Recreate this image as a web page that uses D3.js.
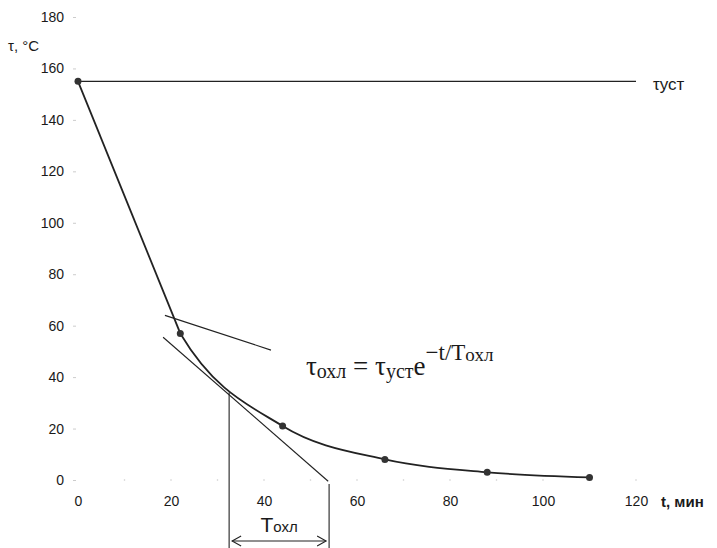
<!DOCTYPE html>
<html>
<head>
<meta charset="utf-8">
<script src="https://cdn.jsdelivr.net/npm/d3@7"></script>
<style>
  body { margin: 0; background: #fff; }
  svg { display: block; }
  text, tspan { font-family: "Liberation Sans", Arial, sans-serif; fill: #1a1a1a; }
  text.serif, text.serif tspan { font-family: "Liberation Serif", "Times New Roman", serif; }
</style>
</head>
<body>
<div id="chart"></div>
<script>
// measured cooling curve, t in minutes, tau in °C
const times = [0, 22, 44, 66, 88, 110];
const temps = [155, 57, 21, 8, 3, 1];
const tauSteady = 155;

const xTicks = [0, 20, 40, 60, 80, 100, 120];
const yTicks = [0, 20, 40, 60, 80, 100, 120, 140, 160, 180];

// tangent construction
const tangentA = [[18.7, 64], [41.5, 50.5]];
const tangentB = [[18.3, 55.5], [53.8, -0.5]];
const tangentPoint = [32.5, 34];
const tCool = 54;

const W = 717, H = 548;
const svg = d3.select('#chart').append('svg')
  .attr('width', W).attr('height', H);

const x = d3.scaleLinear().domain([0, 120]).range([78, 636]);
const y = d3.scaleLinear().domain([0, 180]).range([480, 17]);

// y tick labels
const yAxis = d3.axisLeft(y).tickValues(yTicks).tickSize(3).tickPadding(9);
const gy = svg.append('g').attr('transform', 'translate(76,0)').call(yAxis);
gy.select('.domain').remove();
gy.selectAll('.tick line').attr('stroke', '#ccc');
gy.selectAll('.tick text').attr('font-size', 14).attr('font-family', null).attr('fill', null);

// x tick labels
const xAxis = d3.axisBottom(x).tickValues(xTicks).tickSize(0).tickPadding(16);
const gx = svg.append('g').attr('transform', 'translate(0,480)').call(xAxis);
gx.select('.domain').remove();
gx.selectAll('.tick text').attr('font-size', 14).attr('font-family', null).attr('fill', null);

// faint dots along zero line
svg.append('g').selectAll('circle')
  .data(d3.range(10, 130, 10))
  .enter().append('circle')
    .attr('cx', d => x(d)).attr('cy', y(0)).attr('r', 0.8).attr('fill', '#ccc');

// axis titles
svg.append('text').attr('x', 8).attr('y', 51).attr('font-size', 15).text('τ, °C');
svg.append('text').attr('x', 661).attr('y', 507).attr('font-size', 15)
  .attr('font-weight', 'bold').text('t, мин');

// steady-state line
svg.append('line')
  .attr('x1', x(0)).attr('x2', x(120)).attr('y1', y(tauSteady)).attr('y2', y(tauSteady))
  .attr('stroke', '#222').attr('stroke-width', 1.2);
svg.append('text').attr('x', 653).attr('y', 90).attr('font-size', 17).text('τуст');

// curve: near-straight drop to the second point, smooth decay after
const pts = times.map((t, i) => [t, temps[i]]);
const straight = d3.line().x(d => x(d[0])).y(d => y(d[1]));
const smooth = d3.line().x(d => x(d[0])).y(d => y(d[1])).curve(d3.curveCatmullRom.alpha(0));

svg.append('clipPath').attr('id', 'tail')
  .append('rect').attr('x', x(times[1])).attr('y', 0)
  .attr('width', W - x(times[1])).attr('height', H);

svg.append('path').datum(pts.slice(0, 2))
  .attr('d', straight).attr('fill', 'none').attr('stroke', '#222').attr('stroke-width', 1.8);
svg.append('path').datum(pts)
  .attr('clip-path', 'url(#tail)')
  .attr('d', smooth).attr('fill', 'none').attr('stroke', '#222').attr('stroke-width', 1.8);

svg.selectAll('.pt').data(pts).enter().append('circle')
  .attr('class', 'pt')
  .attr('cx', d => x(d[0])).attr('cy', d => y(d[1])).attr('r', 3.5).attr('fill', '#333');

// tangents
[tangentA, tangentB].forEach(seg => {
  svg.append('path').datum(seg).attr('d', straight)
    .attr('fill', 'none').attr('stroke', '#222').attr('stroke-width', 1.1);
});

// verticals
svg.append('line')
  .attr('x1', x(tangentPoint[0])).attr('x2', x(tangentPoint[0]))
  .attr('y1', y(tangentPoint[1])).attr('y2', H)
  .attr('stroke', '#222').attr('stroke-width', 1.1);
svg.append('line')
  .attr('x1', x(tCool)).attr('x2', x(tCool))
  .attr('y1', y(0) + 4).attr('y2', H)
  .attr('stroke', '#222').attr('stroke-width', 1.1);

// double arrow
const ay = 541;
const ax1 = x(tangentPoint[0]) + 3, ax2 = x(tCool) - 3;
svg.append('line').attr('x1', ax1).attr('x2', ax2).attr('y1', ay).attr('y2', ay)
  .attr('stroke', '#222').attr('stroke-width', 1.1);
svg.append('path')
  .attr('d', `M${ax1 + 9},${ay - 5} L${ax1},${ay} L${ax1 + 9},${ay + 5}`
    + ` M${ax2 - 9},${ay - 5} L${ax2},${ay} L${ax2 - 9},${ay + 5}`)
  .attr('fill', 'none').attr('stroke', '#222').attr('stroke-width', 1.1);

const tl = svg.append('text')
  .attr('x', (x(tangentPoint[0]) + x(tCool)) / 2).attr('y', 532)
  .attr('text-anchor', 'middle').attr('font-size', 21);
tl.append('tspan').text('T');
tl.append('tspan').attr('font-size', 15).text('охл');

// formula
const f = svg.append('text').attr('class', 'serif')
  .attr('x', 306).attr('y', 375).attr('font-size', 27);
f.append('tspan').text('τ');
f.append('tspan').attr('font-size', 20).attr('dy', 3).text('охл');
f.append('tspan').attr('dy', -3).text(' = τ');
f.append('tspan').attr('font-size', 20).attr('dy', 3).text('уст');
f.append('tspan').attr('dy', -3).text('e');
f.append('tspan').attr('font-size', 23).attr('dy', -15).text('−t/');
f.append('tspan').attr('font-size', 23).text('T');
f.append('tspan').attr('font-size', 19).attr('dy', 1).text('охл');
</script>
</body>
</html>
